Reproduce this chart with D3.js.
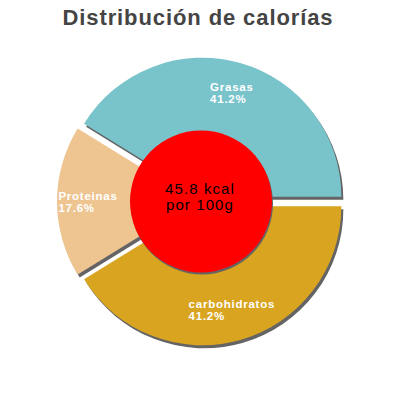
<!DOCTYPE html>
<html>
<head>
<meta charset="utf-8">
<script src="https://cdn.jsdelivr.net/npm/d3@7"></script>
<style>
  html, body { margin: 0; padding: 0; background: #fff; }
  svg { display: block; font-family: "Liberation Sans", Arial, sans-serif; }
</style>
</head>
<body>
<svg id="chart" width="400" height="400"></svg>
<script>
// chart data
const title = "Distribución de calorías";
const categories = ["Grasas", "Proteinas", "carbohidratos"];
const percents = [41.2, 17.6, 41.2];
const colors = ["#79c3cb", "#eec591", "#d9a521"];
const centerLines = ["45.8 kcal", "por 100g"];

const W = 400, H = 400;
const cx = 201, cy = 201.5;
const R = 139;          // outer radius of slices
const HOLE_R = 71;      // red centre disc
const SLICE_OFF = 5;    // exploded distance
const LABEL_R = 108;

const svg = d3.select("#chart");

svg.append("rect").attr("width", W).attr("height", H).attr("fill", "#fff");

// title
svg.append("text")
  .attr("x", 198)
  .attr("y", 25)
  .attr("text-anchor", "middle")
  .style("font-size", "22px")
  .style("font-weight", "bold")
  .style("letter-spacing", "0.9px")
  .style("fill", "#444")
  .text(title);

const data = categories.map((name, i) => ({ name, value: percents[i], color: colors[i] }));

// start at 3 o'clock and run counter-clockwise, as in the picture
const pie = d3.pie()
  .sort(null)
  .value((d) => d.value)
  .startAngle(Math.PI / 2)
  .endAngle(Math.PI / 2 - 2 * Math.PI);

const arcs = pie(data);
const arc = d3.arc().innerRadius(0).outerRadius(R);
const labelArc = d3.arc().innerRadius(LABEL_R).outerRadius(LABEL_R);

// offset of each slice along its bisector
function sliceShift(d) {
  const mid = (d.startAngle + d.endAngle) / 2;
  return [SLICE_OFF * Math.sin(mid), -SLICE_OFF * Math.cos(mid)];
}

const g = svg.append("g").attr("transform", `translate(${cx},${cy})`);

// shadows first
g.selectAll(".shadow")
  .data(arcs)
  .join("path")
  .attr("class", "shadow")
  .attr("d", arc)
  .attr("fill", "#646464")
  .attr("transform", (d) => {
    const [dx, dy] = sliceShift(d);
    return `translate(${dx + 2},${dy + 3})`;
  });

g.selectAll(".slice")
  .data(arcs)
  .join("path")
  .attr("class", "slice")
  .attr("d", arc)
  .attr("fill", (d) => d.data.color)
  .attr("transform", (d) => {
    const [dx, dy] = sliceShift(d);
    return `translate(${dx},${dy})`;
  });

// labels: two left-aligned lines, block centred on a point along the bisector
arcs.forEach((d) => {
  const [dx, dy] = sliceShift(d);
  const [lx, ly] = labelArc.centroid(d);
  const t = g.append("text")
    .style("font-size", "11.5px")
    .style("font-weight", "bold")
    .style("letter-spacing", "0.75px")
    .style("fill", "#fff");
  t.append("tspan").attr("x", 0).attr("y", 0).text(d.data.name);
  t.append("tspan").attr("x", 0).attr("y", 12).text(`${d.data.value.toFixed(1)}%`);
  const bb = t.node().getBBox();
  const x0 = lx + dx - bb.width / 2;
  const y0 = ly + dy - bb.height / 2 - bb.y;
  t.attr("transform", `translate(${x0},${y0})`);
});

// centre disc with its shadow
g.append("circle")
  .attr("cx", 1).attr("cy", 2)
  .attr("r", HOLE_R)
  .attr("fill", "#646464");
g.append("circle")
  .attr("r", HOLE_R)
  .attr("fill", "#ff0000");

const ct = g.append("text")
  .attr("text-anchor", "middle")
  .style("font-size", "15px")
  .style("letter-spacing", "1.1px")
  .style("fill", "#000");
centerLines.forEach((line, i) => {
  ct.append("tspan").attr("x", -1).attr("y", -7.3 + i * 15.4).text(line);
});
</script>
</body>
</html>
